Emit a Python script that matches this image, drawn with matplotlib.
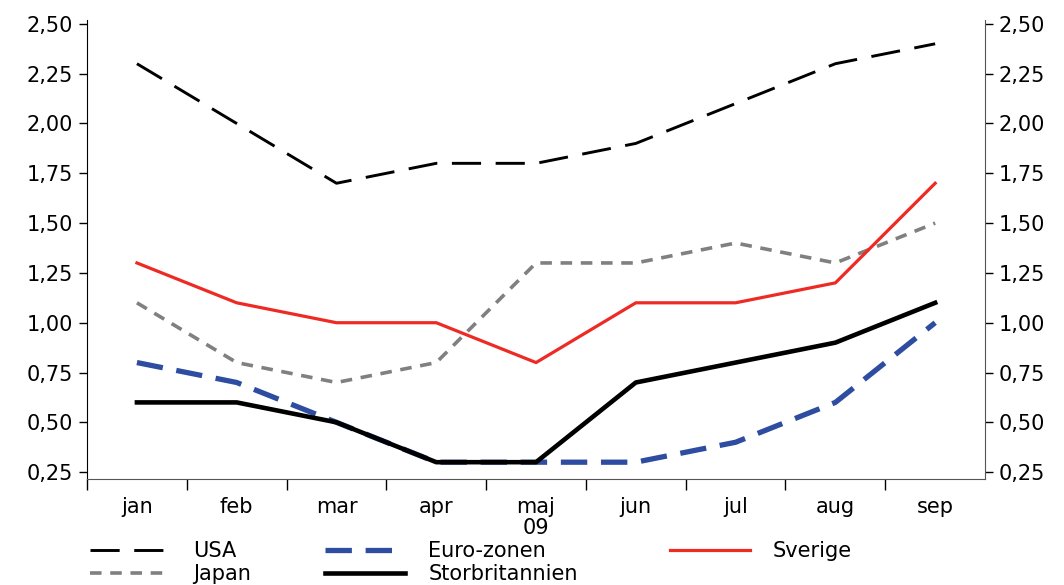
import matplotlib.pyplot as plt
from matplotlib.ticker import FixedLocator, FuncFormatter

plt.rcParams['font.family'] = ['DejaVu Sans']

months = ['jan', 'feb', 'mar', 'apr', 'maj', 'jun', 'jul', 'aug', 'sep']
usa = [2.30, 2.00, 1.70, 1.80, 1.80, 1.90, 2.10, 2.30, 2.40]
euro = [0.80, 0.70, 0.50, 0.30, 0.30, 0.30, 0.40, 0.60, 1.00]
sverige = [1.30, 1.10, 1.00, 1.00, 0.80, 1.10, 1.10, 1.20, 1.70]
japan = [1.10, 0.80, 0.70, 0.80, 1.30, 1.30, 1.40, 1.30, 1.50]
uk = [0.60, 0.60, 0.50, 0.30, 0.30, 0.70, 0.80, 0.90, 1.10]
yticks = [0.25, 0.50, 0.75, 1.00, 1.25, 1.50, 1.75, 2.00, 2.25, 2.50]

fs = 15
fig = plt.figure(figsize=(10.64, 5.85), dpi=100)
ax = fig.add_axes([0.0818, 0.181, 0.844, 0.785])
x = list(range(len(months)))

l_usa, = ax.plot(x, usa, color='black', lw=2.1, dashes=(10, 5), label='USA')
l_jap, = ax.plot(x, japan, color='#808080', lw=2.6, dashes=(3.2, 2.4), label='Japan')
l_sve, = ax.plot(x, sverige, color='#EE2A24', lw=2.3, label='Sverige')
l_eur, = ax.plot(x, euro, color='#2E4DA0', lw=3.8, dashes=(5, 2.6), label='Euro-zonen')
l_uk, = ax.plot(x, uk, color='black', lw=3.3, label='Storbritannien')

ax.set_xlim(-0.5, len(months) - 0.5)
ax.set_ylim(0.215, 2.52)

fmt = FuncFormatter(lambda v, p: f'{v:.2f}'.replace('.', ','))
ax.yaxis.set_major_locator(FixedLocator(yticks))
ax.yaxis.set_major_formatter(fmt)
ax.tick_params(axis='y', labelsize=fs, length=6, width=1, direction='out', pad=4)

ax.set_xticks(x)
ax.set_xticklabels(months, fontsize=fs)
ax.set_xticks([i - 0.5 for i in x], minor=True)
ax.tick_params(axis='x', which='major', length=0, pad=13)
ax.tick_params(axis='x', which='minor', length=8, width=1, color='black')
ax.text(4, -0.085, '09', transform=ax.get_xaxis_transform(), ha='center', va='top', fontsize=fs)

ax2 = ax.twinx()
ax2.set_ylim(ax.get_ylim())
ax2.yaxis.set_major_locator(FixedLocator(yticks))
ax2.yaxis.set_major_formatter(fmt)
ax2.tick_params(axis='y', labelsize=fs, length=6, width=1, direction='out', pad=4)

for a in (ax, ax2):
    a.spines['top'].set_visible(False)
ax.spines['right'].set_visible(False)
ax2.spines['left'].set_visible(False)
ax2.spines['bottom'].set_visible(False)
ax.spines['left'].set_color('black')
ax.spines['bottom'].set_color('#555555')
ax2.spines['right'].set_color('#555555')

# legend: three columns placed where the reference has them
cols = [([l_usa, l_jap], ['USA', 'Japan'], 90),
        ([l_eur, l_uk], ['Euro-zonen', 'Storbritannien'], 325),
        ([l_sve], ['Sverige'], 670)]
for handles, labels, px in cols:
    fig.legend(handles, labels, loc='upper left', bbox_to_anchor=(px / 1064, 1 - 541 / 585),
               frameon=False, fontsize=fs, handlelength=3.85, handletextpad=1.1,
               labelspacing=0.15, borderpad=0, borderaxespad=0)

fig.savefig('out.png', dpi=100)
